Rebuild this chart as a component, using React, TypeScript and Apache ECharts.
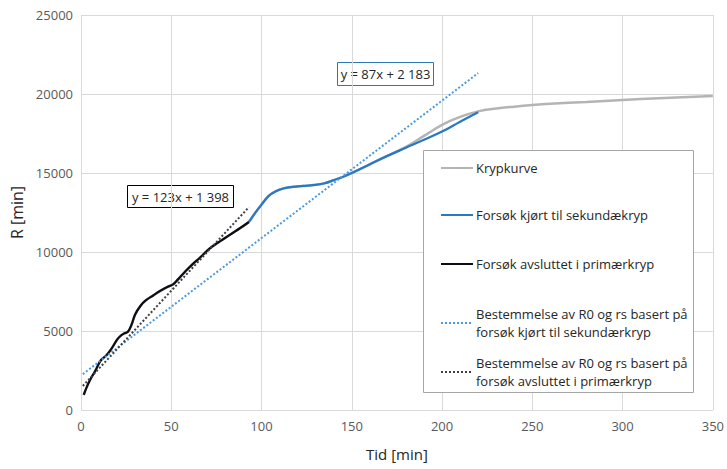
import React, { useEffect, useRef } from "react";
import * as echarts from "echarts";

// Krypkurve (full creep curve)
const krypTid = [1.5, 3, 5, 8, 11, 14, 17, 20, 22, 24, 26, 28, 30, 33, 36, 40, 44, 48, 51, 54, 58, 62, 66, 71, 76, 80, 84, 88, 93, 96, 100, 104, 108, 112, 116, 120, 125, 130, 135, 140, 145, 150, 160, 170, 180, 190, 200, 210, 220, 230, 240, 250, 260, 280, 300, 320, 350];
const krypR = [950, 1400, 1900, 2500, 3150, 3450, 3900, 4450, 4700, 4850, 4950, 5400, 6050, 6600, 6950, 7250, 7550, 7800, 7950, 8300, 8800, 9250, 9650, 10200, 10600, 10900, 11200, 11500, 11900, 12400, 13000, 13550, 13850, 14020, 14100, 14150, 14200, 14250, 14350, 14550, 14750, 15000, 15550, 16100, 16650, 17350, 18050, 18550, 18900, 19080, 19200, 19300, 19380, 19500, 19620, 19730, 19880];

// Forsøk kjørt til sekundækryp
const sekTid = [93, 96, 100, 104, 108, 112, 116, 120, 125, 130, 135, 140, 145, 150, 160, 170, 180, 190, 200, 210, 220];
const sekR = [11900, 12400, 13000, 13550, 13850, 14020, 14100, 14150, 14200, 14250, 14350, 14550, 14750, 15000, 15550, 16100, 16600, 17100, 17620, 18250, 18850];

// Forsøk avsluttet i primærkryp
const primTid = [1.5, 3, 5, 8, 11, 14, 17, 20, 22, 24, 26, 28, 30, 33, 36, 40, 44, 48, 51, 54, 58, 62, 66, 71, 76, 80, 84, 88, 93];
const primR = [950, 1400, 1900, 2500, 3150, 3450, 3900, 4450, 4700, 4850, 4950, 5400, 6050, 6600, 6950, 7250, 7550, 7800, 7950, 8300, 8800, 9250, 9650, 10200, 10600, 10900, 11200, 11500, 11900];

// Linear fits: R = a * t + b
const sekFit = { a: 87, b: 2183, t0: 1, t1: 220 };
const primFit = { a: 123, b: 1398, t0: 1, t1: 93 };

const xTicks = { min: 0, max: 350, interval: 50 };
const yTicks = { min: 0, max: 25000, interval: 5000 };

const names = {
  kryp: "Krypkurve",
  sek: "Forsøk kjørt til sekundækryp",
  prim: "Forsøk avsluttet i primærkryp",
  sekFit: "Bestemmelse av R0 og rs basert på forsøk kjørt til sekundærkryp",
  primFit: "Bestemmelse av R0 og rs basert på forsøk avsluttet i primærkryp",
};

const FONT = "Open Sans";

const pairs = (xs: number[], ys: number[]) => xs.map((x, i) => [x, ys[i]]);
const fitLine = (f: { a: number; b: number; t0: number; t1: number }) => [
  [f.t0, f.a * f.t0 + f.b],
  [f.t1, f.a * f.t1 + f.b],
];

export default function App() {
  const ref = useRef<HTMLDivElement>(null);

  useEffect(() => {
    if (!ref.current) return;
    const chart = echarts.init(ref.current, undefined, { renderer: "svg" });

    const legendText = {
      fontFamily: FONT,
      fontSize: 13,
      color: "#262626",
      lineHeight: 18,
    };
    const wrap = (n: string) => n.replace(" på ", " på\n");
    const mkLegend = (name: string, top: number, multi: boolean) => ({
      data: [name],
      left: 440,
      top,
      padding: 0,
      itemWidth: 32,
      itemHeight: 14,
      selectedMode: false,
      itemStyle: { opacity: 0 },
      formatter: multi ? wrap : undefined,
      textStyle: multi
        ? { ...legendText, padding: [18, 0, 0, -2] }
        : { ...legendText, padding: [0, 0, 0, -2] },
      z: 10,
    });

    chart.setOption({
      animation: false,
      backgroundColor: "#ffffff",
      textStyle: { fontFamily: FONT },
      grid: { left: 81, right: 14, top: 15, bottom: 59, containLabel: false },
      xAxis: {
        type: "value",
        ...xTicks,
        name: "Tid [min]",
        nameLocation: "middle",
        nameGap: 36,
        nameTextStyle: { fontFamily: FONT, fontSize: 15, color: "#262626" },
        axisLine: { show: false },
        axisTick: { show: false },
        axisLabel: { fontFamily: FONT, fontSize: 13, color: "#595959", margin: 9 },
        splitLine: { show: true, lineStyle: { color: "#d9d9d9", width: 1 } },
      },
      yAxis: {
        type: "value",
        ...yTicks,
        name: "R [min]",
        nameLocation: "middle",
        nameGap: 43,
        nameTextStyle: { fontFamily: FONT, fontSize: 16, color: "#262626" },
        axisLine: { show: false },
        axisTick: { show: false },
        axisLabel: {
          fontFamily: FONT,
          fontSize: 13,
          color: "#595959",
          margin: 8,
          formatter: (v: number) => String(v),
        },
        splitLine: { show: true, lineStyle: { color: "#d9d9d9", width: 1 } },
      },
      legend: [
        mkLegend(names.kryp, 159, false),
        mkLegend(names.sek, 206, false),
        mkLegend(names.prim, 255, false),
        mkLegend(names.sekFit, 296, true),
        mkLegend(names.primFit, 345, true),
      ],
      graphic: [
        {
          type: "rect",
          shape: { x: 423.5, y: 150.5, width: 270, height: 242 },
          style: { fill: "#ffffff", stroke: "#a6a6a6", lineWidth: 1 },
          z: 5,
        },
        {
          type: "group",
          z: 6,
          children: [
            {
              type: "rect",
              shape: { x: 127.5, y: 185.5, width: 106, height: 22 },
              style: { fill: "#ffffff", stroke: "#000000", lineWidth: 1 },
            },
            {
              type: "text",
              x: 180.5,
              y: 197,
              style: {
                text: "y = 123x + 1 398",
                fontFamily: FONT,
                fontSize: 13,
                fill: "#262626",
                align: "center",
                verticalAlign: "middle",
              },
            },
            {
              type: "rect",
              shape: { x: 337.5, y: 62.5, width: 96, height: 23 },
              style: { fill: "#ffffff", stroke: "#2e75b6", lineWidth: 1 },
            },
            {
              type: "text",
              x: 385.5,
              y: 74,
              style: {
                text: "y = 87x + 2 183",
                fontFamily: FONT,
                fontSize: 13,
                fill: "#262626",
                align: "center",
                verticalAlign: "middle",
              },
            },
          ],
        },
      ],
      series: [
        {
          name: names.kryp,
          type: "line",
          data: pairs(krypTid, krypR),
          smooth: 0.4,
          symbol: "none",
          lineStyle: { color: "#b4b4b4", width: 2.5 },
          itemStyle: { color: "#b4b4b4" },
          z: 2,
        },
        {
          name: names.sek,
          type: "line",
          data: pairs(sekTid, sekR),
          smooth: 0.4,
          symbol: "none",
          lineStyle: { color: "#2a78c2", width: 2.25 },
          itemStyle: { color: "#2a78c2" },
          z: 3,
        },
        {
          name: names.prim,
          type: "line",
          data: pairs(primTid, primR),
          smooth: 0.4,
          symbol: "none",
          lineStyle: { color: "#0d0d14", width: 2.25 },
          itemStyle: { color: "#0d0d14" },
          z: 4,
        },
        {
          name: names.sekFit,
          type: "line",
          data: fitLine(sekFit),
          symbol: "none",
          lineStyle: { color: "#4a9ae0", width: 2, type: [2, 2] },
          itemStyle: { color: "#4a9ae0" },
          z: 5,
        },
        {
          name: names.primFit,
          type: "line",
          data: fitLine(primFit),
          symbol: "none",
          lineStyle: { color: "#404040", width: 2, type: [2, 2] },
          itemStyle: { color: "#404040" },
          z: 5,
        },
      ],
    });

    return () => chart.dispose();
  }, []);

  return (
    <div
      ref={ref}
      style={{ position: "absolute", left: 0, top: 0, width: 727, height: 469 }}
    />
  );
}
